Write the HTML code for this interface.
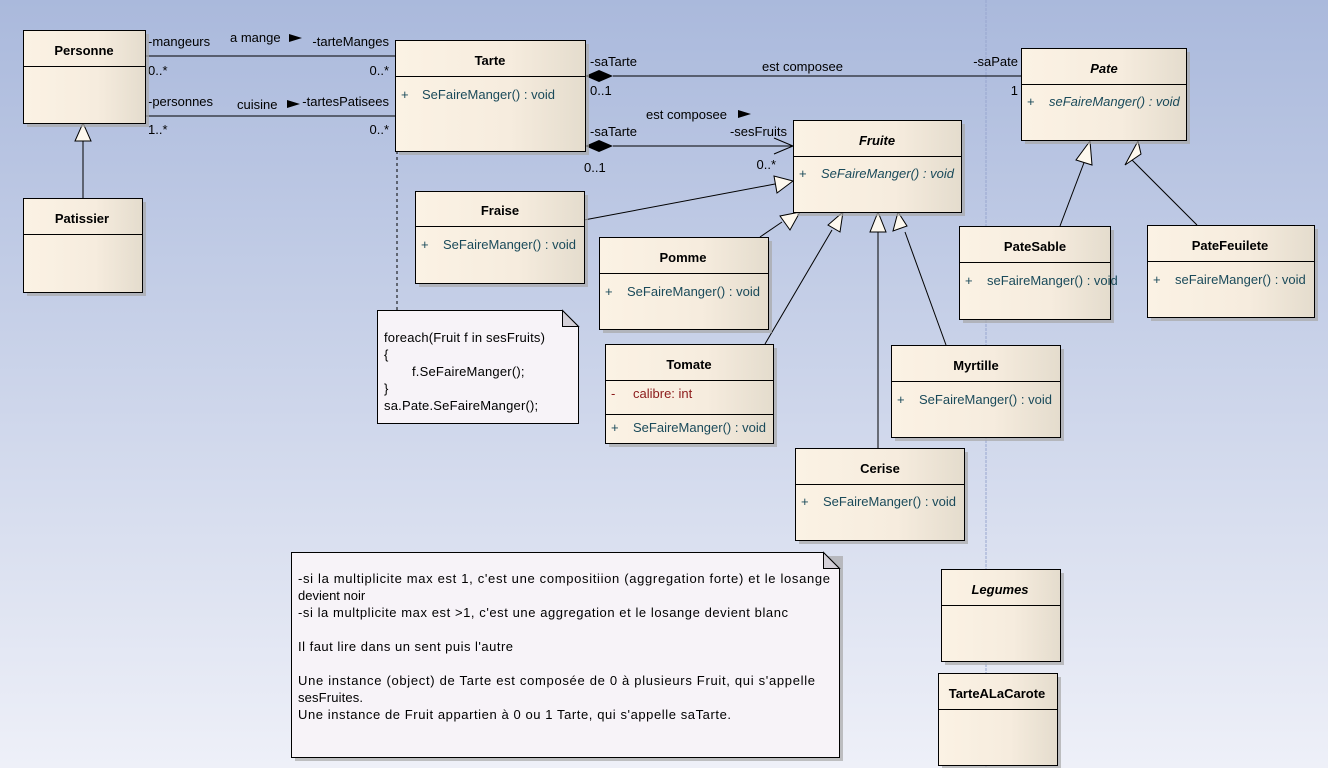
<!DOCTYPE html>
<html><head><meta charset="utf-8"><style>
html,body{margin:0;padding:0;}
body{width:1328px;height:768px;overflow:hidden;}
svg{display:block;font-family:"Liberation Sans",Arial,sans-serif;}
.n{font-size:13px;font-weight:bold;fill:#000;}
.t{font-size:13px;fill:#000;}
.m{font-size:13px;fill:#1a4a5a;}
.a{font-size:13px;fill:#8b1a1a;}
.e{text-anchor:end;}
</style></head><body>
<svg width="1328" height="768" viewBox="0 0 1328 768" xmlns="http://www.w3.org/2000/svg">
<defs>
<linearGradient id="bg" x1="0" y1="0" x2="0" y2="1">
<stop offset="0" stop-color="#aab9dc"/><stop offset="1" stop-color="#eef0f8"/>
</linearGradient>
<linearGradient id="cl" x1="0" y1="0" x2="1" y2="0">
<stop offset="0" stop-color="#fbf2e4"/><stop offset="0.6" stop-color="#f6ecde"/><stop offset="1" stop-color="#e4dccd"/>
</linearGradient>
</defs>
<rect width="1328" height="768" fill="url(#bg)"/>
<line x1="986" y1="0" x2="986" y2="768" stroke="#98a6cf" stroke-width="1" stroke-dasharray="3,1"/>

<g stroke="#000" stroke-width="1" fill="none">
<line x1="145" y1="56" x2="395" y2="56"/>
<line x1="145" y1="116" x2="395" y2="116"/>
<line x1="613" y1="76" x2="1021" y2="76"/>
<line x1="613" y1="146" x2="793" y2="146"/>
<polyline points="774,138 793,146 774,154"/>
<line x1="397" y1="151" x2="397" y2="310" stroke-dasharray="3,3"/>
<line x1="83" y1="198" x2="83" y2="141"/>
<line x1="584" y1="220" x2="775" y2="184"/>
<line x1="760" y1="237" x2="782" y2="222"/>
<line x1="765" y1="344" x2="832" y2="230"/>
<line x1="878" y1="449" x2="878" y2="232"/>
<line x1="946" y1="345" x2="905" y2="232"/>
<line x1="1060" y1="226" x2="1085" y2="160"/>
<line x1="1197" y1="225" x2="1130" y2="158"/>
</g>
<polygon points="585,76 599,70 613,76 599,82" fill="#000"/>
<polygon points="585,146 599,140 613,146 599,152" fill="#000"/>
<g fill="#fdf8ee" stroke="#000" stroke-width="1">
<polygon points="83,123 75,141 91,141"/>
<polygon points="793,181 774,176 777,193"/>
<polygon points="800,212 780,216 790,230"/>
<polygon points="843,212 828,225 840,232"/>
<polygon points="878,212 870,232 886,232"/>
<polygon points="898,212 893,231 907,226"/>
<polygon points="1090,141 1076,160 1092,165"/>
<polygon points="1138,141 1125,165 1141,154"/>
</g>
<polygon points="289,34 302,38 289,42" fill="#000"/>
<polygon points="287,100 300,104 287,108" fill="#000"/>
<polygon points="738,110 751,114 738,118" fill="#000"/>

<g class="t">
<text x="148" y="46">-mangeurs</text>
<text x="230" y="42">a mange</text>
<text x="389" y="46" class="e">-tarteManges</text>
<text x="148" y="75">0..*</text>
<text x="389" y="75" class="e">0..*</text>
<text x="148" y="106">-personnes</text>
<text x="237" y="109">cuisine</text>
<text x="389" y="106" class="e">-tartesPatisees</text>
<text x="148" y="134">1..*</text>
<text x="389" y="134" class="e">0..*</text>
<text x="590" y="66">-saTarte</text>
<text x="590" y="95">0..1</text>
<text x="762" y="71">est composee</text>
<text x="1018" y="66" class="e">-saPate</text>
<text x="1018" y="95" class="e">1</text>
<text x="646" y="119">est composee</text>
<text x="590" y="136">-saTarte</text>
<text x="787" y="136" class="e">-sesFruits</text>
<text x="584" y="172">0..1</text>
<text x="776" y="169" class="e">0..*</text>
</g>

<g>
<g fill="#a8a8a8" opacity="0.7">
<rect x="27" y="34" width="122" height="93"/>
<rect x="27" y="202" width="119" height="94"/>
<rect x="399" y="44" width="190" height="111"/>
<rect x="419" y="195" width="169" height="92"/>
<rect x="603" y="241" width="169" height="92"/>
<rect x="609" y="348" width="168" height="99"/>
<rect x="799" y="452" width="169" height="92"/>
<rect x="895" y="349" width="169" height="92"/>
<rect x="797" y="124" width="168" height="92"/>
<rect x="1025" y="52" width="165" height="92"/>
<rect x="963" y="230" width="151" height="93"/>
<rect x="1151" y="229" width="167" height="92"/>
<rect x="945" y="573" width="119" height="92"/>
<rect x="942" y="677" width="119" height="92"/>
<rect x="295" y="556" width="548" height="205"/>
</g>
<g fill="url(#cl)" stroke="#000" stroke-width="1">
<rect x="23.5" y="30.5" width="122" height="93"/>
<rect x="23.5" y="198.5" width="119" height="94"/>
<rect x="395.5" y="40.5" width="190" height="111"/>
<rect x="415.5" y="191.5" width="169" height="92"/>
<rect x="599.5" y="237.5" width="169" height="92"/>
<rect x="605.5" y="344.5" width="168" height="99"/>
<rect x="795.5" y="448.5" width="169" height="92"/>
<rect x="891.5" y="345.5" width="169" height="92"/>
<rect x="793.5" y="120.5" width="168" height="92"/>
<rect x="1021.5" y="48.5" width="165" height="92"/>
<rect x="959.5" y="226.5" width="151" height="93"/>
<rect x="1147.5" y="225.5" width="167" height="92"/>
<rect x="941.5" y="569.5" width="119" height="92"/>
<rect x="938.5" y="673.5" width="119" height="92"/>
</g>
<g stroke="#000" stroke-width="1">
<line x1="23" y1="66.5" x2="145" y2="66.5"/>
<line x1="23" y1="234.5" x2="142" y2="234.5"/>
<line x1="395" y1="76.5" x2="585" y2="76.5"/>
<line x1="415" y1="226.5" x2="584" y2="226.5"/>
<line x1="599" y1="273.5" x2="768" y2="273.5"/>
<line x1="605" y1="380.5" x2="773" y2="380.5"/>
<line x1="605" y1="414.5" x2="773" y2="414.5"/>
<line x1="795" y1="484.5" x2="964" y2="484.5"/>
<line x1="891" y1="381.5" x2="1060" y2="381.5"/>
<line x1="793" y1="156.5" x2="961" y2="156.5"/>
<line x1="1021" y1="84.5" x2="1186" y2="84.5"/>
<line x1="959" y1="262.5" x2="1110" y2="262.5"/>
<line x1="1147" y1="261.5" x2="1314" y2="261.5"/>
<line x1="941" y1="605.5" x2="1060" y2="605.5"/>
<line x1="938" y1="709.5" x2="1057" y2="709.5"/>
</g>
</g>

<g class="n" text-anchor="middle">
<text x="84" y="55">Personne</text>
<text x="82" y="223">Patissier</text>
<text x="490" y="65">Tarte</text>
<text x="500" y="215">Fraise</text>
<text x="683" y="262">Pomme</text>
<text x="689" y="369">Tomate</text>
<text x="880" y="473">Cerise</text>
<text x="976" y="370">Myrtille</text>
<text x="877" y="145" font-style="italic">Fruite</text>
<text x="1104" y="73" font-style="italic">Pate</text>
<text x="1035" y="251">PateSable</text>
<text x="1230" y="250">PateFeuilete</text>
<text x="1000" y="594" font-style="italic">Legumes</text>
<text x="997" y="698">TarteALaCarote</text>
</g>
<g class="m">
<text x="401" y="99">+</text><text x="422" y="99">SeFaireManger() : void</text>
<text x="421" y="249">+</text><text x="443" y="249">SeFaireManger() : void</text>
<text x="605" y="296">+</text><text x="627" y="296">SeFaireManger() : void</text>
<text x="611" y="432">+</text><text x="633" y="432">SeFaireManger() : void</text>
<text x="801" y="506">+</text><text x="823" y="506">SeFaireManger() : void</text>
<text x="897" y="404">+</text><text x="919" y="404">SeFaireManger() : void</text>
<text x="799" y="178">+</text><text x="821" y="178" font-style="italic">SeFaireManger() : void</text>
<text x="1027" y="106">+</text><text x="1049" y="106" font-style="italic">seFaireManger() : void</text>
<text x="965" y="285">+</text><text x="987" y="285">seFaireManger() : void</text>
<text x="1153" y="284">+</text><text x="1175" y="284">seFaireManger() : void</text>
</g>
<g class="a"><text x="611" y="398">-</text><text x="633" y="398">calibre:  int</text></g>

<polygon points="377.5,310.5 562.5,310.5 578.5,326.5 578.5,423.5 377.5,423.5" fill="#f7f3f8" stroke="#000" stroke-width="1"/>
<polygon points="562.5,310.5 562.5,326.5 578.5,326.5" fill="#d4d0d8" stroke="#000" stroke-width="1"/>
<g class="t" letter-spacing="0.2">
<text x="384" y="342">foreach(Fruit f in sesFruits)</text>
<text x="384" y="359">{</text>
<text x="412" y="376">f.SeFaireManger();</text>
<text x="384" y="393">}</text>
<text x="384" y="410">sa.Pate.SeFaireManger();</text>
</g>
<polygon points="291.5,552.5 823.5,552.5 839.5,568.5 839.5,757.5 291.5,757.5" fill="#f7f3f8" stroke="#000" stroke-width="1"/>
<polygon points="823.5,552.5 823.5,568.5 839.5,568.5" fill="#d4d0d8" stroke="#000" stroke-width="1"/>
<g class="t">
<text x="298" y="583" textLength="532" lengthAdjust="spacing">-si la multiplicite max est 1, c'est une compositiion (aggregation forte) et le losange</text>
<text x="298" y="600">devient noir</text>
<text x="298" y="617" textLength="490" lengthAdjust="spacing">-si la multplicite max est &gt;1, c'est une aggregation et le losange devient blanc</text>
<text x="298" y="651" textLength="215" lengthAdjust="spacing">Il faut lire dans un sent puis l'autre</text>
<text x="298" y="685" textLength="517" lengthAdjust="spacing">Une instance (object) de Tarte est composée de 0 à plusieurs Fruit, qui s'appelle</text>
<text x="298" y="702" textLength="65" lengthAdjust="spacing">sesFruites.</text>
<text x="298" y="719" textLength="433" lengthAdjust="spacing">Une instance de Fruit appartien à 0 ou 1 Tarte, qui s'appelle saTarte.</text>
</g>
</svg>
</body></html>
